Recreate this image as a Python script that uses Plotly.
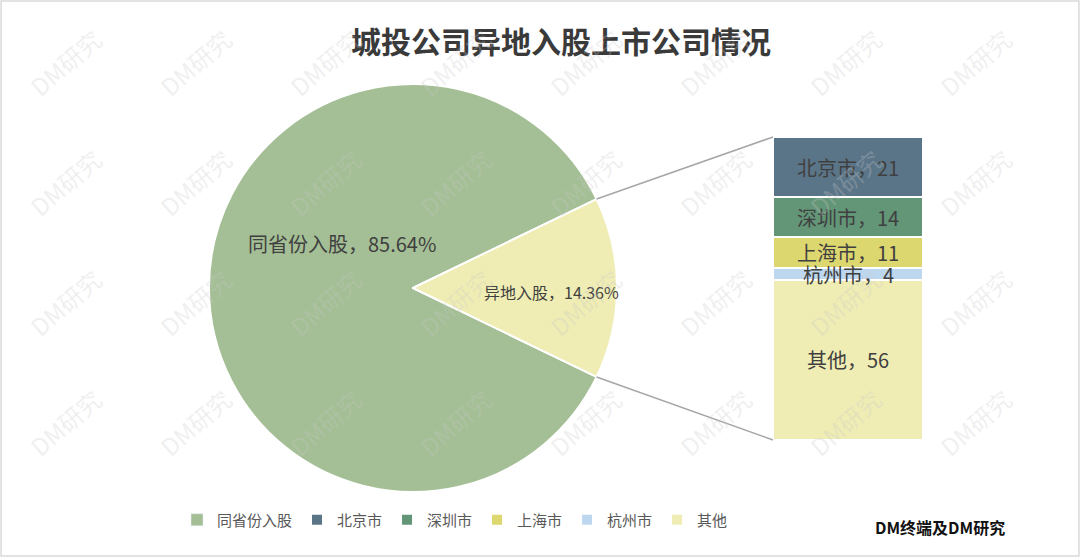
import math
import plotly.graph_objects as go

# ---------------- data ----------------
pie_labels = ["同省份入股", "异地入股"]
pie_values = [85.64, 14.36]
bar_labels = ["北京市", "深圳市", "上海市", "杭州市", "其他"]
bar_values = [21, 14, 11, 4, 56]
title_text = "城投公司异地入股上市公司情况"
source_text = "DM终端及DM研究"
watermark_text = "DM研究"

# ---------------- style ----------------
W, H = 1080, 557
pie_colors = ["#A4BF95", "#EFEDB4"]
bar_colors = {"北京市": "#5B7588", "深圳市": "#629677", "上海市": "#DDD76F",
              "杭州市": "#BDD7EE", "其他": "#EFEDB4"}
txt_color = "#404040"
FONT = "Noto Sans CJK SC"

pie_cx, pie_cy, pie_r = 413, 288, 204
bar_x0, bar_x1, bar_top, bar_bot = 773, 923, 137, 440

fig = go.Figure()


def note(x, y, text, size, color, angle=0, ref="paper"):
    if ref == "paper":
        x, y = x / W, 1 - y / H
        xr, yr = "paper", "paper"
    else:
        xr, yr = "x", "y"
    fig.add_annotation(x=x, y=y, xref=xr, yref=yr, text=text, showarrow=False,
                       xanchor="center", yanchor="middle", textangle=angle,
                       font=dict(family=FONT, size=size, color=color))


# pie
half = 180.0 * pie_values[1] / sum(pie_values)
fig.add_trace(go.Pie(
    labels=pie_labels, values=pie_values, sort=False, direction="clockwise",
    rotation=90 + half,
    marker=dict(colors=pie_colors, line=dict(color="white", width=2)),
    textinfo="none", hoverinfo="label+value", showlegend=False,
    domain=dict(x=[(pie_cx - pie_r) / W, (pie_cx + pie_r) / W],
                y=[1 - (pie_cy + pie_r) / H, 1 - (pie_cy - pie_r) / H]),
))

# legend entry for the pie's first slice
fig.add_trace(go.Bar(x=[None], y=[None], name=pie_labels[0],
                     marker=dict(color=pie_colors[0]), legendrank=1,
                     xaxis="x", yaxis="y"))

# stacked bar (bottom -> top : reversed list)
order = list(range(len(bar_labels)))[::-1]
cum = 0
for i in order:
    lab, val = bar_labels[i], bar_values[i]
    fig.add_trace(go.Bar(
        x=[0], y=[val], name=lab, width=1,
        marker=dict(color=bar_colors[lab], line=dict(color="white", width=2)),
        legendrank=2 + i, textposition="none", hoverinfo="name+y",
        xaxis="x", yaxis="y",
    ))
    note(0, cum + val / 2, f"{lab}，{val}", 20, txt_color, ref="data")
    cum += val
total = cum

# connector lines from pie slice edges to bar corners
dx = pie_r * math.cos(math.radians(half))
dy = pie_r * math.sin(math.radians(half))
for (py, by) in [(pie_cy - dy, bar_top), (pie_cy + dy, bar_bot)]:
    fig.add_shape(type="line", xref="paper", yref="paper",
                  x0=(pie_cx + dx) / W, y0=1 - py / H,
                  x1=bar_x0 / W, y1=1 - by / H,
                  line=dict(color="#A6A6A6", width=1.5))

# pie labels
note(342, 243, f"{pie_labels[0]}，{pie_values[0]:.2f}%", 20, txt_color)
note(551, 292, f"{pie_labels[1]}，{pie_values[1]:.2f}%", 16, txt_color)

# title and source
note(561, 40, f"<b>{title_text}</b>", 30, "#3a3a3a")
note(940, 527, f"<b>{source_text}</b>", 16, "#111111")

# watermarks
for r in range(4):
    for c in range(8):
        note(65 + 130 * c, 62 + 120 * r, watermark_text, 24,
             "rgba(200,200,200,0.28)", angle=-41)

# border
fig.add_shape(type="rect", xref="paper", yref="paper", x0=0.001, y0=0.002,
              x1=0.999, y1=0.998, line=dict(color="#D9D9D9", width=1.5))

fig.update_layout(
    width=W, height=H, margin=dict(l=0, r=0, t=0, b=0),
    paper_bgcolor="white", plot_bgcolor="rgba(0,0,0,0)",
    barmode="stack",
    xaxis=dict(domain=[bar_x0 / W, bar_x1 / W], range=[-0.5, 0.5],
               visible=False, fixedrange=True),
    yaxis=dict(domain=[1 - bar_bot / H, 1 - bar_top / H], range=[0, total],
               visible=False, fixedrange=True),
    legend=dict(orientation="h", x=455 / W, xanchor="center",
                y=1 - 520 / H, yanchor="middle",
                font=dict(family=FONT, size=15, color="#595959"),
                itemwidth=30, traceorder="normal"),
    font=dict(family=FONT),
)

fig.write_html("out.html", post_script="document.body.style.margin='0';",
               config={"displayModeBar": False})
